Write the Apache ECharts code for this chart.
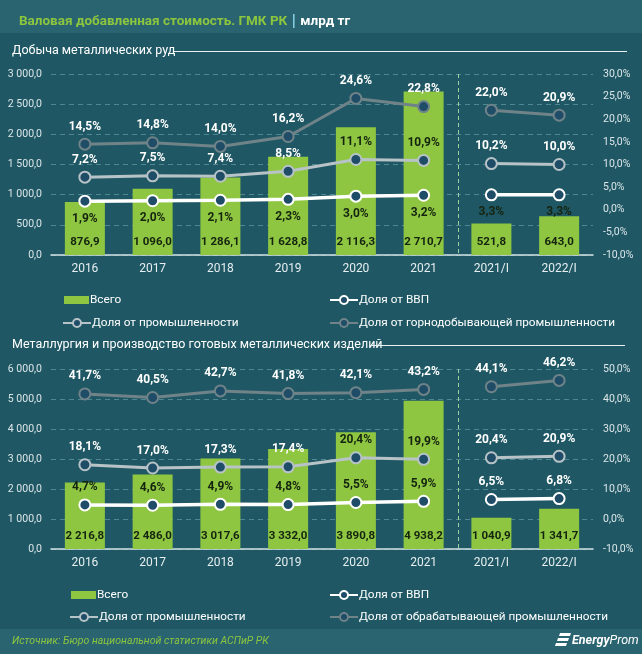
<!DOCTYPE html>
<html><head><meta charset="utf-8">
<script src="https://cdn.jsdelivr.net/npm/echarts@6/dist/echarts.min.js"></script>
<style>html,body{margin:0;padding:0;background:#1f5864;}#c{width:642px;height:654px;}</style>
</head><body><div id="c"></div>
<script>
const cats = ['2016','2017','2018','2019','2020','2021','2021/I','2022/I'];
const annualCount = 6;
// Добыча металлических руд
const oreTotal  = [876.9, 1096.0, 1286.1, 1628.8, 2116.3, 2710.7, 521.8, 643.0];
const oreGdp    = [1.9, 2.0, 2.1, 2.3, 3.0, 3.2, 3.3, 3.3];
const oreInd    = [7.2, 7.5, 7.4, 8.5, 11.1, 10.9, 10.2, 10.0];
const oreMining = [14.5, 14.8, 14.0, 16.2, 24.6, 22.8, 22.0, 20.9];
// Металлургия
const metTotal  = [2216.8, 2486.0, 3017.6, 3332.0, 3890.8, 4938.2, 1040.9, 1341.7];
const metGdp    = [4.7, 4.6, 4.9, 4.8, 5.5, 5.9, 6.5, 6.8];
const metInd    = [18.1, 17.0, 17.3, 17.4, 20.4, 19.9, 20.4, 20.9];
const metManuf  = [41.7, 40.5, 42.7, 41.8, 42.1, 43.2, 44.1, 46.2];

const FONT = "Roboto, sans-serif";
const BG = '#1f5864', HEAD = '#2a6470';
const GREEN = '#8ec641', DARK = '#15240f';
const C_GDP = '#ffffff', C_IND = '#b7c3c7', C_SEC = '#6f8389';
const MARK_FILL = '#1f4d68';

function fmtNum(v){
  const s = v.toFixed(1).split('.');
  return s[0].replace(/\B(?=(\d{3})+(?!\d))/g, ' ') + ',' + s[1];
}
function fmtPct(v){ return v.toFixed(1).replace('.', ',') + '%'; }

function lineSeries(name, values, gi, color, width, pos, darkIdx, part){
  const data = values.map((v,i)=>{
    const inPart = part === 0 ? i < annualCount : i >= annualCount;
    if(!inPart) return '-';
    return {value: v, label: {color: darkIdx.indexOf(i) >= 0 ? DARK : '#ffffff'}};
  });
  return {
    type:'line', name, xAxisIndex: gi, yAxisIndex: gi*2+1, data, z: 5,
    symbol:'circle', symbolSize: 11, connectNulls:false,
    lineStyle:{color, width},
    itemStyle:{color: MARK_FILL, borderColor: color, borderWidth: 2},
    label:{show:true, position: pos, distance: 5, formatter: p=>fmtPct(p.value),
      fontFamily: FONT, fontSize: 12, fontWeight:'bold'},
    emphasis:{disabled:true}
  };
}
function barSeries(values, gi){
  return {type:'bar', name:'Всего', xAxisIndex: gi, yAxisIndex: gi*2, data: values,
    barWidth: 40, itemStyle:{color: GREEN}, z: 2,
    label:{show:true, position:'insideBottom', distance: 7, color: DARK,
      fontFamily: FONT, fontSize: 11.5, fontWeight:'bold', formatter: p=>fmtNum(p.value)},
    emphasis:{disabled:true}};
}
function xAx(gi){
  return {type:'category', gridIndex: gi, data: cats,
    axisTick:{show:false}, axisLine:{lineStyle:{color:'#d3e2e5', width:1.5}},
    axisLabel:{color:'#e6eef0', fontSize:12, margin:8, fontFamily: FONT}};
}
function yLeft(gi, max, interval){
  return {type:'value', gridIndex: gi, min:0, max, interval,
    axisLabel:{color:'#dbe6e9', fontSize:10.5, margin:9, fontFamily: FONT, formatter: v=>fmtNum(v)},
    axisLine:{show:false}, axisTick:{show:false},
    splitLine:{lineStyle:{color:'#4f8893', type:[5,4], width:1}}};
}
function yRight(gi, min, max, interval){
  return {type:'value', gridIndex: gi, min, max, interval, position:'right',
    axisLabel:{color:'#dbe6e9', fontSize:10.5, margin:10, fontFamily: FONT, formatter: v=>fmtPct(v)},
    axisLine:{show:false}, axisTick:{show:false}, splitLine:{show:false}};
}
function legendItem(name, left, top, isBar){
  return {data:[name], left, top, itemGap: 0,
    itemWidth: isBar ? 25 : 28, itemHeight: isBar ? 8 : 10,
    icon: isBar ? 'rect' : undefined, selectedMode: false,
    textStyle:{color:'#ffffff', fontSize:11.8, fontFamily: FONT, padding:[0,0,0,-4]}};
}

const series = [
  barSeries(oreTotal, 0),
  lineSeries('Доля от горнодобывающей промышленности', oreMining, 0, C_SEC, 3, 'top', [], 0),
  lineSeries('Доля от горнодобывающей промышленности', oreMining, 0, C_SEC, 3, 'top', [], 1),
  lineSeries('Доля от промышленности', oreInd, 0, C_IND, 3, 'top', [4,5], 0),
  lineSeries('Доля от промышленности', oreInd, 0, C_IND, 3, 'top', [4,5], 1),
  lineSeries('Доля от ВВП', oreGdp, 0, C_GDP, 3.5, 'bottom', [0,1,2,3,4,5,6,7], 0),
  lineSeries('Доля от ВВП', oreGdp, 0, C_GDP, 3.5, 'bottom', [0,1,2,3,4,5,6,7], 1),
  barSeries(metTotal, 1),
  lineSeries('Доля от обрабатывающей промышленности', metManuf, 1, C_SEC, 3, 'top', [], 0),
  lineSeries('Доля от обрабатывающей промышленности', metManuf, 1, C_SEC, 3, 'top', [], 1),
  lineSeries('Доля от промышленности', metInd, 1, C_IND, 3, 'top', [4,5], 0),
  lineSeries('Доля от промышленности', metInd, 1, C_IND, 3, 'top', [4,5], 1),
  lineSeries('Доля от ВВП', metGdp, 1, C_GDP, 3.5, 'top', [0,1,2,3,4,5], 0),
  lineSeries('Доля от ВВП', metGdp, 1, C_GDP, 3.5, 'top', [0,1,2,3,4,5], 1)
];

const graphics = [
  {id:'head', type:'rect', shape:{x:0,y:0,width:642,height:33}, style:{fill:HEAD}, z:-10},
  {id:'foot', type:'rect', shape:{x:0,y:629,width:642,height:25}, style:{fill:HEAD}, z:-10},
  {id:'t1', type:'text', left:12, top:44, style:{text:'Добыча металлических руд', fill:'#ffffff', font:"12.5px "+FONT}},
  {id:'l1', type:'line', shape:{x1:174,y1:51.5,x2:627,y2:51.5}, style:{stroke:'#e8f0f2', lineWidth:1.2}},
  {id:'t2', type:'text', left:12, top:338, style:{text:'Металлургия и производство готовых металлических изделий', fill:'#ffffff', font:"12.5px "+FONT}},
  {id:'l2', type:'line', shape:{x1:370,y1:345.5,x2:625,y2:345.5}, style:{stroke:'#e8f0f2', lineWidth:1.2}},
  {id:'src', type:'text', left:12, top:636, style:{text:'Источник: Бюро национальной статистики АСПиР РК', fill:'#8cc63f', font:"italic 10.5px "+FONT}},
  {id:'lg1', type:'polygon', shape:{points:[[560,633],[571,633],[570,636],[559,636]]}, style:{fill:'#ffffff'}},
  {id:'lg2', type:'polygon', shape:{points:[[558,638],[569,638],[568,641],[557,641]]}, style:{fill:'#ffffff'}},
  {id:'lg3', type:'polygon', shape:{points:[[556,643],[567,643],[566,646],[555,646]]}, style:{fill:'#ffffff'}},
  {id:'logo', type:'text', left:572, top:634, style:{text:'{b|Energy}{n|Prom}', fill:'#ffffff',
    rich:{b:{fill:'#ffffff', font:"italic bold 12.5px "+FONT}, n:{fill:'#ffffff', font:"italic 12.5px "+FONT}}}}
];

const option = {
  backgroundColor: BG,
  animation: false,
  textStyle:{fontFamily: FONT},
  title:{text:'{g|Валовая добавленная стоимость. ГМК РК} {s||} {w|млрд тг}', left:14, top:8,
    textStyle:{rich:{
      g:{color:'#8cc63f', fontSize:13.5, fontFamily:FONT, fontWeight:'bold'},
      s:{color:'#8fd6ec', fontSize:16, fontFamily:FONT, fontWeight:'bold'},
      w:{color:'#ffffff', fontSize:13.5, fontFamily:FONT}}}},
  grid:[
    {left:51, width:542, top:74, height:181},
    {left:51, width:542, top:369, height:180}
  ],
  xAxis:[xAx(0), xAx(1)],
  yAxis:[yLeft(0,3000,500), yRight(0,-10,30,5), yLeft(1,6000,1000), yRight(1,-10,50,10)],
  legend:[
    legendItem('Всего', 59, 289, true),
    legendItem('Доля от ВВП', 324, 289, false),
    legendItem('Доля от промышленности', 57, 312, false),
    legendItem('Доля от горнодобывающей промышленности', 324, 312, false),
    legendItem('Всего', 66, 584, true),
    legendItem('Доля от ВВП', 324, 584, false),
    legendItem('Доля от промышленности', 64, 606, false),
    legendItem('Доля от обрабатывающей промышленности', 324, 606, false)
  ],
  graphic: graphics,
  series
};
const chart = echarts.init(document.getElementById('c'), null, {renderer:'canvas'});
chart.setOption(option);

// dashed separator between annual and quarterly data, placed via the axis scale
const sep = [];
[0,1].forEach(gi=>{
  const a = chart.convertToPixel({xAxisIndex:gi}, cats[annualCount-1]);
  const b = chart.convertToPixel({xAxisIndex:gi}, cats[annualCount]);
  const x = Math.round((a+b)/2)+0.5;
  const yTop = chart.convertToPixel({yAxisIndex:gi*2}, gi===0?3000:6000);
  const yBot = chart.convertToPixel({yAxisIndex:gi*2}, 0);
  sep.push({id:'sep'+gi, type:'line', shape:{x1:x,y1:yTop,x2:x,y2:yBot},
    style:{stroke:'#9fd0a0', lineWidth:1, lineDash:[4,3]}, z:1});
});
chart.setOption({graphic: sep});
</script></body></html>
